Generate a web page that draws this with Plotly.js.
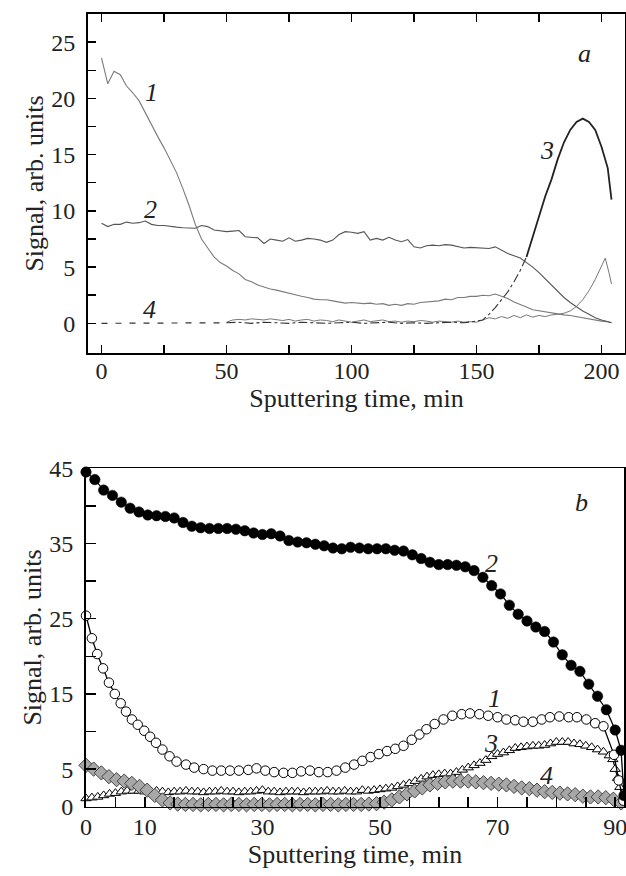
<!DOCTYPE html>
<html>
<head>
<meta charset="utf-8">
<script src="https://cdn.plot.ly/plotly-3.0.1.min.js"></script>
<style>html,body{margin:0;padding:0;background:#fff;}#chart{width:626px;height:876px;}</style>
</head>
<body>
<div id="chart"></div>
<script>
// ---------- Panel a ----------
const timeA = [0,2.5,5,7.5,10,12.5,15,17.5,20,22.5,25,27.5,30,32.5,35,37.5,40,42.5,45,47.5,50,52.5,55,57.5,60,62.5,65,67.5,70,72.5,75,77.5,80,82.5,85,87.5,90,92.5,95,97.5,100,102.5,105,107.5,110,112.5,115,117.5,120,122.5,125,127.5,130,132.5,135,137.5,140,142.5,145,147.5,150,152.5,155,157.5,160,162.5,165,167.5,170,172.5,175,177.5,180,182.5,185,187.5,190,192.5,195,197.5,200,202.5,204];
const a1 = [23.6,21.3,22.4,22.1,21.1,20.5,19.8,18.7,17.7,16.6,
  15.6,14.5,13.4,12.0,10.5,8.8,7.5,6.7,5.9,5.4,
  5.1,4.7,4.4,3.9,3.7,3.4,3.2,3.05,2.95,2.8,
  2.7,2.5,2.4,2.3,2.15,2.1,2.1,2.0,1.9,1.8,
  1.85,1.8,1.75,1.8,1.7,1.75,1.6,1.7,1.6,1.75,
  1.7,1.85,1.9,1.95,2.0,2.15,2.1,2.3,2.3,2.4,
  2.4,2.5,2.45,2.6,2.4,2.2,1.9,1.7,1.45,1.2,
  1.1,1.0,0.9,0.85,0.75,0.7,0.6,0.45,0.4,0.3,
  0.2,0.15,0.05];
const a2 = [8.9,8.6,8.8,8.8,9.0,8.9,8.95,9.1,8.8,8.7,
  8.7,8.6,8.55,8.5,8.45,8.45,8.7,8.6,8.3,8.2,
  8.15,8.2,8.25,7.7,7.65,7.6,7.1,7.5,7.4,7.3,
  7.6,7.3,7.4,7.55,7.5,7.4,7.2,7.4,7.9,8.15,
  8.1,8.0,8.15,7.4,7.55,7.4,7.65,7.4,7.25,7.45,
  6.8,6.7,6.9,6.95,6.9,7.0,6.95,6.8,6.7,6.75,
  6.7,6.65,6.65,6.8,6.5,6.2,6.0,5.8,5.4,5.0,
  4.5,3.95,3.4,2.8,2.3,1.85,1.45,1.1,0.8,0.5,
  0.3,0.15,0.05];
const time3a = [50,55,60,65,70,75,80,85,90,95,100,105,110,115,120,125,130,135,140,145,147.5,150,152.5,155,157.5,160,162.5,165,167.5,170];
const a3a = [0.05,0.1,0.0,0.1,0.05,0.0,0.1,0.05,0.0,0.05,0.1,0.0,0.05,0.1,0.0,0.05,0.0,0.05,0.1,0.05,0.1,0.2,0.3,0.8,1.4,2.1,2.8,3.7,4.7,5.9];
const time3b = [170,172.5,175,177.5,180,182.5,185,187.5,190,192.5,195,197.5,200,202.5,204];
const a3b = [5.9,7.7,9.4,11.3,12.8,14.6,16.1,17.2,17.9,18.2,17.9,17.2,15.7,13.8,11.0];
const time4a = [0,5,10,15,20,25,30,35,40,45,50];
const a4a = [0,0,0,0,0,0,0,0,0,0,0.05];
const time4b = [50,52.5,55,57.5,60,62.5,65,67.5,70,72.5,75,77.5,80,82.5,85,87.5,90,92.5,95,97.5,100,102.5,105,107.5,110,112.5,115,117.5,120,122.5,125,127.5,130,132.5,135,137.5,140,142.5,145,147.5,150,152.5,155,157.5,160,162.5,165,167.5,170,172.5,175,177.5,180,182.5,185,187.5,190,192.5,195,197.5,200,201.5,203,204];
const a4b = [0.1,0.3,0.35,0.3,0.4,0.35,0.3,0.4,0.3,0.25,
  0.35,0.2,0.3,0.35,0.2,0.3,0.25,0.15,0.3,0.2,
  0.1,0.2,0.3,0.15,0.2,0.3,0.15,0.2,0.1,0.2,
  0.15,0.25,0.2,0.1,0.2,0.15,0.1,0.2,0.1,0.15,
  0.1,0.3,0.5,0.4,0.6,0.45,0.7,0.5,0.75,0.55,
  0.7,0.6,0.75,0.8,0.9,1.1,1.5,2.1,2.9,3.9,
  5.0,5.8,4.5,3.5];
const tickValsAX = [0,25,50,75,100,125,150,175,200];
const tickTextAX = ['0','','50','','100','','150','','200'];
const tickValsAY = [0,2.5,5,7.5,10,12.5,15,17.5,20,22.5,25];
const tickTextAY = ['0','','5','','10','','15','','20','','25'];

// ---------- Panel b ----------
const timeB1 = [0,1,1.9,2.9,3.9,4.9,5.9,6.8,7.8,8.8,9.9,10.9,11.9,13.0,14.2,15.4,17.0,18.4,20.0,21.5,23.0,24.5,26.0,27.6,29.0,30.5,32.0,33.6,35.1,36.6,38.1,39.6,41.1,42.6,44.1,45.6,47.0,48.4,49.8,51.2,52.6,54.0,55.4,56.7,57.9,59.3,60.8,62.3,63.9,65.3,66.9,68.4,70.0,71.5,73.0,74.4,76.0,77.5,78.9,80.5,82.1,83.5,85.1,86.6,88.0,89.8,90.6,91.4];
const b1 = [25.4,22.4,20.3,18.4,16.5,15.0,13.75,12.65,11.6,10.9,
  10.1,9.3,8.5,7.6,6.7,6.0,5.6,5.2,5.0,4.8,
  4.8,4.8,4.8,4.9,5.1,4.8,4.6,4.5,4.5,4.7,
  4.8,4.6,4.6,4.8,5.2,5.6,6.1,6.6,7.0,7.4,
  7.7,8.1,8.9,9.6,10.3,11.0,11.6,12.1,12.3,12.4,
  12.3,12.1,11.9,11.6,11.5,11.3,11.3,11.6,11.9,12.0,
  11.9,11.9,11.6,11.1,10.7,6.9,3.5,0.8];
const timeB2 = [0,1.5,3,4.5,6,7.5,9,10.5,12,13.5,15,16.5,18,19.5,21,22.5,24,25.5,27,28.5,30,31.5,33,34.5,36,37.5,39,40.5,42,43.5,45,46.5,48,49.5,51,52.5,54,55.5,57,58.5,60,61.5,63,64.5,66,67.5,69,70.5,72,73.5,75,76.5,78,79.5,81,82.5,84,85.5,87,88.5,90,91,91.5];
const b2 = [44.5,43.5,42.1,41.4,40.5,39.7,39.2,38.8,38.7,38.6,
  38.4,37.8,37.3,37.1,37.0,37.0,37.0,36.9,36.7,36.4,
  36.2,36.3,36.0,35.4,35.2,35.1,34.9,34.7,34.4,34.3,
  34.5,34.4,34.3,34.3,34.3,34.1,34.0,33.5,33.0,32.5,
  32.2,32.2,32.1,31.9,31.4,30.5,29.4,28.3,26.8,25.6,
  24.7,23.9,23.3,21.9,20.2,18.8,18.0,16.3,14.7,12.9,
  10.2,7.5,1.5];
const timeB3 = [0,1,2,3,4,5,6,7,8,9,10,11,12,13,14,15,16,17,18,19,20,21,22,23,24,25,26,27,28,29,30,31,32,33,34,35,36,37,38,39,40,41,42,43,44,45,46,47,48,49,50,51,52,53,54,55,56,57,58,59,60,61,62,63,64,65,66,67,68,69,70,71,72,73,74,75,76,77,78,79,80,81,82,83,84,85,86,87,88,89,89.6,90,90.4,90.8,91.3];
const b3 = [1.1,1.2,1.3,1.5,1.7,1.8,2.0,2.1,2.1,2.1,
  2.0,2.0,2.1,2.0,1.9,2.0,2.0,2.1,2.0,2.0,
  1.9,2.0,2.0,2.1,2.0,2.0,1.9,2.0,2.0,2.1,
  2.2,2.0,2.0,1.9,2.0,2.0,2.0,1.9,2.0,2.0,
  2.0,2.1,2.0,2.0,2.1,2.0,2.0,2.2,2.1,2.2,
  2.3,2.4,2.5,2.7,2.9,3.1,3.4,3.7,4.0,4.2,
  4.3,4.4,4.4,4.6,4.9,5.2,5.5,5.8,6.2,6.7,
  7.0,7.2,7.5,7.8,7.9,8.0,8.1,8.1,8.2,8.4,
  8.6,8.6,8.6,8.4,8.3,8.1,7.9,7.6,7.3,6.8,
  6.3,5.0,3.8,2.6,1.3];
const timeB4 = [0,1.3,2.6,3.9,5.2,6.5,7.8,9.1,10.4,11.7,13,14.3,15.6,16.9,18.2,19.5,20.8,22.1,23.4,24.7,26,27.3,28.6,29.9,31.2,32.5,33.8,35.1,36.4,37.7,39,40.3,41.6,42.9,44.2,45.5,46.8,48.1,49.4,50.7,52,53.3,54.6,55.9,57.2,58.5,59.8,61.1,62.4,63.7,65,66.3,67.6,68.9,70.2,71.5,72.8,74.1,75.4,76.7,78,79.3,80.6,81.9,83.2,84.5,85.8,87.1,88.4,89.7,91];
const b4 = [5.5,5.0,4.5,4.0,3.6,3.4,3.1,2.7,2.2,1.5,
  0.9,0.5,0.35,0.3,0.3,0.25,0.3,0.3,0.25,0.3,
  0.3,0.25,0.3,0.3,0.25,0.3,0.3,0.25,0.3,0.3,
  0.25,0.3,0.3,0.25,0.3,0.3,0.3,0.35,0.4,0.6,
  0.9,1.3,1.7,2.1,2.5,2.9,3.1,3.3,3.4,3.4,
  3.4,3.3,3.2,3.1,3.0,2.9,2.7,2.5,2.4,2.2,
  2.0,1.9,1.8,1.7,1.6,1.4,1.3,1.3,1.2,1.0,
  0.5];
const tickValsBX = [0,5,10,15,20,25,30,35,40,45,50,55,60,65,70,75,80,85,90];
const tickTextBX = ['0','','10','','','','30','','','','50','','','','70','','','','90'];
const tickValsBY = [0,5,10,15,20,25,30,35,40,45];
const tickTextBY = ['0','5','','15','','25','','35','','45'];

const xTitle = 'Sputtering time, min';
const yTitle = 'Signal, arb. units';
const curveLabelsA = [['1',19.8,20.5],['2',19.4,10.1],['3',178,15.4],['4',19.3,1.2],['a',193.3,24.0]];
const curveLabelsB = [['2',69.0,32.4],['1',69.5,14.4],['3',68.9,8.4],['4',78.3,4.2],['b',84.3,40.4]];

const FONT = 'Liberation Serif';

const traces = [
  {x: timeA, y: a1, xaxis:'x', yaxis:'y', mode:'lines', line:{color:'#7a7a7a', width:1.1}},
  {x: timeA, y: a2, xaxis:'x', yaxis:'y', mode:'lines', line:{color:'#555555', width:1.1}},
  {x: time4a, y: a4a, xaxis:'x', yaxis:'y', mode:'lines', line:{color:'#333333', width:1.2, dash:'6px,8px'}},
  {x: time4b, y: a4b, xaxis:'x', yaxis:'y', mode:'lines', line:{color:'#777777', width:1}},
  {x: time3a, y: a3a, xaxis:'x', yaxis:'y', mode:'lines', line:{color:'#333333', width:1.1, dash:'dashdot'}},
  {x: time3b, y: a3b, xaxis:'x', yaxis:'y', mode:'lines', line:{color:'#222222', width:1.8}},

  {x: timeB3, y: b3, xaxis:'x2', yaxis:'y2', mode:'lines+markers', cliponaxis:false,
   line:{color:'#000', width:1.2}, marker:{symbol:'triangle-up', size:9, color:'#fff', line:{color:'#000', width:1}}},
  {x: timeB4, y: b4, xaxis:'x2', yaxis:'y2', mode:'lines+markers', cliponaxis:false,
   line:{color:'#000', width:1.2}, marker:{symbol:'diamond', size:11, color:'#a8a8a8', line:{color:'#444', width:1}}},
  {x: timeB1, y: b1, xaxis:'x2', yaxis:'y2', mode:'lines+markers', cliponaxis:false,
   line:{color:'#000', width:1.3}, marker:{symbol:'circle', size:9.5, color:'#fff', line:{color:'#000', width:1}}},
  {x: timeB2, y: b2, xaxis:'x2', yaxis:'y2', mode:'lines+markers', cliponaxis:false,
   line:{color:'#000', width:1.3}, marker:{symbol:'circle', size:10.5, color:'#000', line:{color:'#000', width:0.5}}}
];

const axisCommon = {
  showgrid:false, zeroline:false, showline:true, linecolor:'#000',
  ticks:'inside', tickcolor:'#000', fixedrange:true, ticklabeloverflow:'allow',
  tickfont:{family:FONT, size:24, color:'#222'}
};

const annotations = [];
curveLabelsA.forEach(l => annotations.push({xref:'x', yref:'y', x:l[1], y:l[2], text:l[0], showarrow:false,
  font:{family:FONT, size:26, style:'italic', color:'#222'}}));
curveLabelsB.forEach(l => annotations.push({xref:'x2', yref:'y2', x:l[1], y:l[2], text:l[0], showarrow:false,
  font:{family:FONT, size:26, style:'italic', color:'#222'}}));

const layout = {
  width:626, height:876, showlegend:false,
  paper_bgcolor:'#fff', plot_bgcolor:'#fff',
  margin:{l:0, r:0, t:0, b:0},
  font:{family:FONT, color:'#222'},
  xaxis: Object.assign({}, axisCommon, {domain:[0.1406, 0.9984], anchor:'y', range:[-5.4, 209.4],
    linewidth:2, mirror:'ticks', ticklen:8, tickwidth:1.5, tickvals:tickValsAX, ticktext:tickTextAX,
    ticklabelstandoff:-5,
    title:{text:xTitle, font:{family:FONT, size:26, color:'#222'}, standoff:0}}),
  yaxis: Object.assign({}, axisCommon, {domain:[0.597, 0.984], anchor:'x', range:[-2.64, 27.5],
    linewidth:2, mirror:true, ticklen:8, tickwidth:1.5, tickvals:tickValsAY, ticktext:tickTextAY,
    ticklabelstandoff:6,
    title:{text:yTitle, font:{family:FONT, size:26, color:'#222'}, standoff:0}}),
  xaxis2: Object.assign({}, axisCommon, {domain:[0.1374, 0.9968], anchor:'y2', range:[0, 91.5],
    linewidth:1.5, mirror:true, ticklen:10, tickwidth:1.5, tickvals:tickValsBX, ticktext:tickTextBX,
    ticklabelstandoff:-2,
    title:{text:xTitle, font:{family:FONT, size:26, color:'#222'}, standoff:0}}),
  yaxis2: Object.assign({}, axisCommon, {domain:[0.0791, 0.4654], anchor:'x2', range:[0, 45],
    linewidth:2, mirror:true, ticklen:10, tickwidth:1.5, tickvals:tickValsBY, ticktext:tickTextBY,
    ticklabelstandoff:6,
    title:{text:yTitle, font:{family:FONT, size:26, color:'#222'}, standoff:0}}),
  annotations: annotations
};

Plotly.newPlot('chart', traces, layout, {displayModeBar:false, staticPlot:true});
</script>
</body>
</html>
